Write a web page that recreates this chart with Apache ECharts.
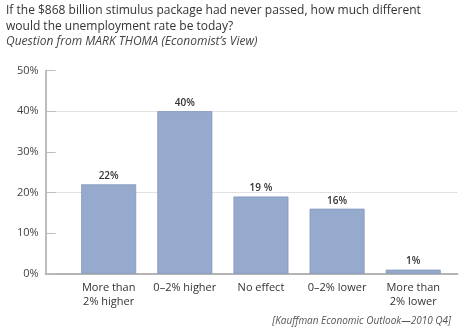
<!DOCTYPE html>
<html>
<head>
<meta charset="utf-8">
<script src="https://cdn.jsdelivr.net/npm/echarts@6/dist/echarts.min.js"></script>
<style>
  html, body { margin: 0; padding: 0; background: #fff; }
  #chart { width: 460px; height: 335px; }
</style>
</head>
<body>
<div id="chart"></div>
<script>
// Survey answers: change in unemployment rate without the stimulus
const categories = ['More than\n2% higher', '0–2% higher', 'No effect', '0–2% lower', 'More than\n2% lower'];
const shares = [22, 40, 19, 16, 1];
const shareLabels = ['22%', '40%', '19 %', '16%', '1%'];
const yTicks = [0, 10, 20, 30, 40, 50];

const FONT = '"Open Sans", "Noto Sans", sans-serif';
const chart = echarts.init(document.getElementById('chart'), null, { renderer: 'canvas' });

const option = {
  animation: false,
  backgroundColor: '#ffffff',
  textStyle: { fontFamily: FONT },
  title: [
    {
      text: 'If the $868 billion stimulus package had never passed, how much different\nwould the unemployment rate be today?',
      subtext: 'Question from MARK THOMA (Economist\u2019s View)',
      left: 1,
      top: -2,
      itemGap: 1,
      textStyle: { fontFamily: FONT, fontSize: 12, fontWeight: 'normal', color: '#333', lineHeight: 16 },
      subtextStyle: { fontFamily: FONT, fontSize: 12, fontStyle: 'italic', color: '#444' }
    },
    {
      text: '[Kauffman Economic Outlook\u20142010 Q4]',
      right: 4,
      bottom: 4,
      textStyle: { fontFamily: FONT, fontSize: 10, fontStyle: 'italic', fontWeight: 'normal', color: '#555' }
    }
  ],
  grid: [
    // frame: y axis, baseline and reference lines across the whole plot
    { left: 45.7, right: 2.5, top: 70.5, bottom: 61.3, containLabel: false },
    // bars
    { left: 70.6, right: 8.7, top: 70.5, bottom: 61.3, containLabel: false }
  ],
  xAxis: [
    {
      gridIndex: 0, type: 'value', min: 0, max: 1,
      axisLine: { show: true, lineStyle: { color: '#b4b4b4', width: 2 } },
      axisTick: { show: false }, axisLabel: { show: false }, splitLine: { show: false }
    },
    {
      gridIndex: 1, type: 'category', data: categories,
      axisLine: { show: false }, axisTick: { show: false },
      axisLabel: { interval: 0, margin: 7, fontSize: 11, color: '#333', lineHeight: 14, fontFamily: FONT }
    }
  ],
  yAxis: [
    {
      gridIndex: 0, type: 'value', min: yTicks[0], max: yTicks[yTicks.length - 1], interval: 10,
      axisLine: { show: true, lineStyle: { color: '#bdbdbd', width: 2 } },
      axisTick: { show: true, inside: true, length: 10, lineStyle: { color: '#bdbdbd', width: 1 } },
      axisLabel: { formatter: '{value}%', fontSize: 11, color: '#444', margin: 7, fontFamily: FONT },
      splitLine: { show: true, lineStyle: { type: 'dotted', width: 1, color: ['#c4c4c4', 'rgba(0,0,0,0)'] } }
    },
    {
      gridIndex: 1, type: 'value', min: yTicks[0], max: yTicks[yTicks.length - 1], interval: 10,
      show: false, splitLine: { show: false }
    }
  ],
  series: [
    {
      type: 'bar',
      xAxisIndex: 1, yAxisIndex: 1,
      data: shares,
      barWidth: 55,
      itemStyle: { color: '#96aacd', borderColor: '#8498be', borderWidth: 0.8 },
      label: {
        show: true, position: 'top', distance: 3,
        formatter: (p) => shareLabels[p.dataIndex],
        fontSize: 10, fontWeight: 600, color: '#333', fontFamily: FONT
      }
    }
  ]
};
chart.setOption(option);
</script>
</body>
</html>
